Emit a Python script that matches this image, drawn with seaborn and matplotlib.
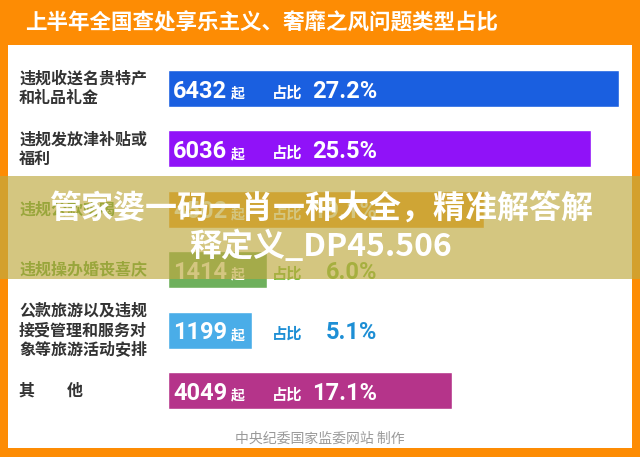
import matplotlib
matplotlib.use("Agg")
import matplotlib.pyplot as plt
import matplotlib.transforms as mtransforms
from matplotlib.patches import Rectangle
import seaborn as sns
import pandas as pd

# ---------------- data ----------------
title = "上半年全国查处享乐主义、奢靡之风问题类型占比"
categories = ["违规收送名贵特产\n和礼品礼金", "违规发放津补贴或\n福利", "违规公款吃喝",
              "违规操办婚丧喜庆", "公款旅游以及违规\n接受管理和服务对\n象等旅游活动安排", "其\u3000\u3000他"]
counts = [6432, 6036, 4502, 1414, 1199, 4049]
shares = ["27.2%", "25.5%", "19.1%", "6.0%", "5.1%", "17.1%"]
unit = "起"
share_word = "占比"
footer = "中央纪委国家监委网站 制作"
overlay_text = "管家婆一码一肖一种大全，精准解答解\n释定义_DP45.506"

bar_colors = ["#1A5FE0", "#9012F8", "#F29B1D", "#6EB05C", "#4AADE8", "#B5348A"]
outside_colors = [None, None, None, "#74BC3A", "#1E8FD5", None]
label_colors = ["#333333", "#333333", "#4E9E2E", "#4E9E2E", "#333333", "#333333"]

W, H = 640, 457
sns.set_theme(style="white")
plt.rcParams["font.family"] = ["Noto Sans CJK SC", "DejaVu Sans"]

fig = plt.figure(figsize=(6.4, 4.57), dpi=100, facecolor="#FD8C04")


def fx(px):
    return px / W


def fy(py):
    return 1 - py / H


# white panel
fig.add_artist(Rectangle((fx(8), fy(448)), fx(632) - fx(8), fy(45) - fy(448),
                         transform=fig.transFigure, facecolor="white",
                         edgecolor="none", zorder=-1))

# title
fig.text(fx(25), fy(23), title, ha="left", va="center", fontsize=15.5,
         fontweight="bold", color="white")

# bars
ax = fig.add_axes([fx(168), fy(420.7), 491 / W, (420.7 - 58.3) / H])
ax.set_facecolor("none")
df = pd.DataFrame({"cat": categories, "count": counts})
sns.barplot(data=df, x="count", y="cat", hue="cat", palette=bar_colors,
            orient="h", width=0.61, saturation=1, legend=False, ax=ax)
ax.set_xlim(0, 7000)
ax.set_ylim(5.5, -0.5)
ax.axis("off")

trans = mtransforms.blended_transform_factory(fig.transFigure, ax.transData)
num_font = ["Roboto", "DejaVu Sans"]
for i, (cat, c, s) in enumerate(zip(categories, counts, shares)):
    base = i + 0.15
    ax.text(fx(19), i, cat, transform=trans, ha="left", va="center",
            fontsize=11.5, fontweight="bold", color=label_colors[i],
            linespacing=1.25)
    ax.text(fx(173), base, f"{c}", transform=trans, ha="left", va="baseline",
            fontsize=17, fontweight="bold", color="white", family=num_font)
    ax.text(fx(231), base, unit, transform=trans, ha="left", va="baseline",
            fontsize=10, fontweight="bold", color="white")
    oc = outside_colors[i] or "white"
    ax.text(fx(272), base, share_word, transform=trans, ha="left", va="baseline",
            fontsize=11, fontweight="bold", color=oc)
    ax.text(fx(377), base, s, transform=trans, ha="right", va="baseline",
            fontsize=17, fontweight="bold", color=oc, family=num_font)

# footer
fig.text(fx(320), fy(439), footer, ha="center", va="center", fontsize=10,
         color="#9A9A9A")

# translucent watermark band
fig.add_artist(Rectangle((0, fy(279)), 1, (279 - 176) / H,
                         transform=fig.transFigure,
                         facecolor=(191 / 255, 170 / 255, 66 / 255), alpha=0.67,
                         edgecolor="none", zorder=10))
fig.text(fx(321), fy(228), overlay_text, ha="center", va="center", fontsize=23,
         fontweight="bold", color="white", linespacing=1.2, zorder=11)

fig.savefig("out.png", dpi=100, facecolor=fig.get_facecolor())
